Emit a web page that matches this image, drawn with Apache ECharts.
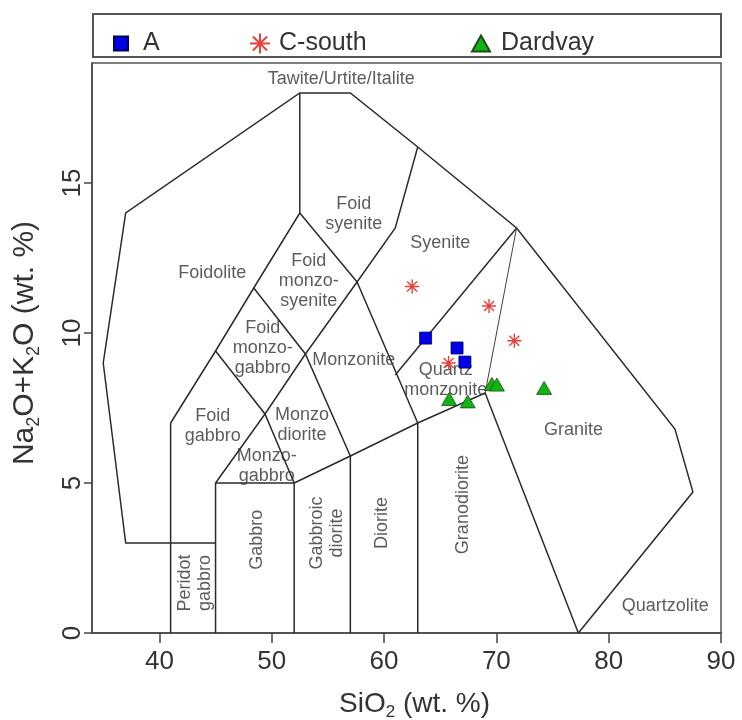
<!DOCTYPE html>
<html>
<head>
<meta charset="utf-8">
<script src="https://cdn.jsdelivr.net/npm/echarts@6/dist/echarts.min.js"></script>
<style>
  html, body { margin: 0; padding: 0; background: #ffffff; }
  #chart { width: 742px; height: 720px; }
</style>
</head>
<body>
<div id="chart"></div>
<script>
// TAS classification for plutonic rocks (SiO2 vs Na2O+K2O, wt. %)

// Axis tick values
const xTicks = [40, 50, 60, 70, 80, 90];
const yTicks = [0, 5, 10, 15];

// Sample groups: [SiO2, Na2O+K2O]
const seriesNames = ['A', 'C-south', 'Dardvay'];
const aSamples = [[63.7, 9.83], [66.5, 9.5], [67.2, 9.03]];
const cSouthSamples = [[62.5, 11.55], [69.35, 10.9], [71.6, 9.74], [65.75, 9.0]];
const dardvaySamples = [[65.8, 7.8], [67.45, 7.72], [69.6, 8.3], [70.05, 8.28], [74.25, 8.17]];

// Field boundaries, each a polyline in [SiO2, Na2O+K2O]
const fieldBoundaries = [
  [[77.3, 0], [87.5, 4.7], [85.9, 6.8], [71.8, 13.5], [63, 16.2], [57, 18], [52.5, 18], [37, 14], [35, 9], [37, 3], [45, 3]],
  [[77.3, 0], [69, 8]],
  [[52, 5], [57, 5.9], [63, 7], [69, 8]],
  [[41, 0], [41, 7]],
  [[45, 0], [45, 5]],
  [[52, 0], [52, 5]],
  [[57, 0], [57, 5.9]],
  [[63, 0], [63, 7]],
  [[45, 5], [52, 5]],
  [[41, 7], [45, 9.4], [48.4, 11.5], [52.5, 14], [52.5, 18]],
  [[52.5, 14], [57.6, 11.7], [61, 13.5], [63, 16.2]],
  [[57.6, 11.7], [63, 7]],
  [[61, 8.6], [71.8, 13.5]],
  [[45, 9.4], [49.4, 7.3], [52, 5]],
  [[48.4, 11.5], [53, 9.3], [57, 5.9]],
  [[57.6, 11.7], [53, 9.3], [49.4, 7.3], [45, 5]]
];
// Granite / quartz monzonite divide (thin line)
const graniteDivide = [[69, 8], [71.8, 13.5]];

// Field names: [text, SiO2, Na2O+K2O, rotation]
const fieldLabels = [
  ['Tawite/Urtite/Italite', 56.2, 18.45, 0],
  ['Foid\nsyenite', 57.3, 13.95, 0],
  ['Syenite', 65.0, 13.0, 0],
  ['Foidolite', 44.7, 12.0, 0],
  ['Foid\nmonzo-\nsyenite', 53.3, 11.72, 0],
  ['Foid\nmonzo-\ngabbro', 49.2, 9.5, 0],
  ['Monzonite', 57.3, 9.1, 0],
  ['Quartz\nmonzonite', 65.5, 8.42, 0],
  ['Foid\ngabbro', 44.75, 6.9, 0],
  ['Monzo\ndiorite', 52.7, 6.94, 0],
  ['Monzo-\ngabbro', 49.56, 5.55, 0],
  ['Gabbro', 48.67, 3.11, 90],
  ['Gabbroic\ndiorite', 54.9, 3.33, 90],
  ['Diorite', 59.8, 3.67, 90],
  ['Peridot\ngabbro', 43.18, 1.67, 90],
  ['Granodiorite', 67.07, 4.28, 90],
  ['Granite', 76.87, 6.78, 0],
  ['Quartzolite', 85.03, 0.89, 0]
];

const FONT = '"Liberation Sans", Arial, Helvetica, sans-serif';
const TEXT = '#333333';

// Eight-armed asterisk marker built from four thin bars
const ASTERISK = 'path://' +
  'M-0.5 -5 L0.5 -5 L0.5 5 L-0.5 5 Z ' +
  'M-5 -0.5 L5 -0.5 L5 0.5 L-5 0.5 Z ' +
  'M-3.18 -3.89 L3.89 3.18 L3.18 3.89 L-3.89 -3.18 Z ' +
  'M-3.89 3.18 L3.18 -3.89 L3.89 -3.18 L-3.18 3.89 Z';

const chart = echarts.init(document.getElementById('chart'), null, { renderer: 'canvas' });

const legendText = { fontFamily: FONT, fontSize: 25, color: TEXT };
function nameRich(size) {
  return {
    t: { fontFamily: FONT, fontSize: size, color: TEXT, lineHeight: size + 6, verticalAlign: 'middle' },
    s: { fontFamily: FONT, fontSize: Math.round(size * 0.6), color: TEXT, lineHeight: Math.round(size * 0.6), verticalAlign: 'bottom' }
  };
}

const option = {
  animation: false,
  backgroundColor: '#ffffff',
  textStyle: { fontFamily: FONT },
  grid: {
    left: 92, right: 21, top: 63, bottom: 87,
    containLabel: false, outerBoundsMode: 'none',
    show: true, borderColor: '#555555', borderWidth: 1.5, backgroundColor: 'transparent'
  },
  graphic: [{
    type: 'rect',
    shape: { x: 93, y: 14, width: 628, height: 43 },
    style: { fill: 'none', stroke: '#555555', lineWidth: 2 },
    silent: true
  }],
  legend: [
    { data: [seriesNames[0]], left: 113, top: 31, padding: 0, itemWidth: 14, itemHeight: 14, selectedMode: false,
      textStyle: Object.assign({ padding: [0, 0, 0, 10] }, legendText) },
    { data: [seriesNames[1]], left: 250, top: 31, padding: 0, itemWidth: 20, itemHeight: 20, selectedMode: false,
      textStyle: Object.assign({ padding: [0, 0, 0, 4] }, legendText) },
    { data: [seriesNames[2]], left: 471, top: 31, padding: 0, itemWidth: 18, itemHeight: 16, selectedMode: false,
      textStyle: Object.assign({ padding: [0, 0, 0, 6] }, legendText) }
  ],
  xAxis: {
    type: 'value', min: 34, max: 90,
    name: '{t|SiO}{s|2}{t| (wt. %)}',
    nameLocation: 'middle', nameGap: 54,
    nameTextStyle: { padding: [0, 0, 0, 16], rich: nameRich(28) },
    axisLine: { show: true, lineStyle: { color: '#444444', width: 1.5 } },
    axisTick: { show: true, length: 10, lineStyle: { color: '#444444', width: 1.5 }, customValues: xTicks },
    axisLabel: { fontFamily: FONT, fontSize: 26, color: TEXT, margin: 16, customValues: xTicks },
    splitLine: { show: false }
  },
  yAxis: {
    type: 'value', min: 0, max: 19,
    name: '{t|Na}{s|2}{t|O+K}{s|2}{t|O (wt. %)}',
    nameLocation: 'middle', nameGap: 49,
    nameTextStyle: { padding: [0, 0, 0, 10], rich: nameRich(30) },
    axisLine: { show: true, lineStyle: { color: '#444444', width: 1.5 } },
    axisTick: { show: true, length: 8, lineStyle: { color: '#444444', width: 1.5 }, customValues: yTicks },
    axisLabel: { fontFamily: FONT, fontSize: 26, color: TEXT, margin: 6, rotate: 90, customValues: yTicks },
    splitLine: { show: false }
  },
  series: [
    {
      type: 'lines', coordinateSystem: 'cartesian2d', polyline: true, silent: true, z: 2,
      lineStyle: { color: '#2b2b2b', width: 1.5, opacity: 1 },
      data: fieldBoundaries.map(c => ({ coords: c }))
    },
    {
      type: 'lines', coordinateSystem: 'cartesian2d', polyline: true, silent: true, z: 2,
      lineStyle: { color: '#5a3838', width: 1, opacity: 1 },
      data: [{ coords: graniteDivide }]
    },
    {
      type: 'scatter', silent: true, z: 3,
      symbolSize: 0,
      data: fieldLabels.map(f => ({
        name: f[0], value: [f[1], f[2]],
        label: { rotate: f[3] }
      })),
      label: {
        show: true, position: 'inside', formatter: '{b}',
        fontFamily: FONT, fontSize: 18, lineHeight: 20, color: TEXT,
        align: 'center', verticalAlign: 'middle'
      }
    },
    {
      name: seriesNames[0], type: 'scatter', z: 5,
      data: aSamples, symbol: 'rect', symbolSize: 12,
      itemStyle: { color: '#0000e6', borderColor: '#00005a', borderWidth: 0.8, opacity: 1 }
    },
    {
      name: seriesNames[1], type: 'scatter', z: 5,
      data: cSouthSamples, symbol: ASTERISK, symbolSize: 14,
      itemStyle: { color: '#e8413c', opacity: 1 }
    },
    {
      name: seriesNames[2], type: 'scatter', z: 5,
      data: dardvaySamples, symbol: 'triangle', symbolSize: [15, 13],
      itemStyle: { color: '#10b410', borderColor: '#1d4d1d', borderWidth: 0.8, opacity: 1 }
    }
  ]
};

chart.setOption(option);
</script>
</body>
</html>
